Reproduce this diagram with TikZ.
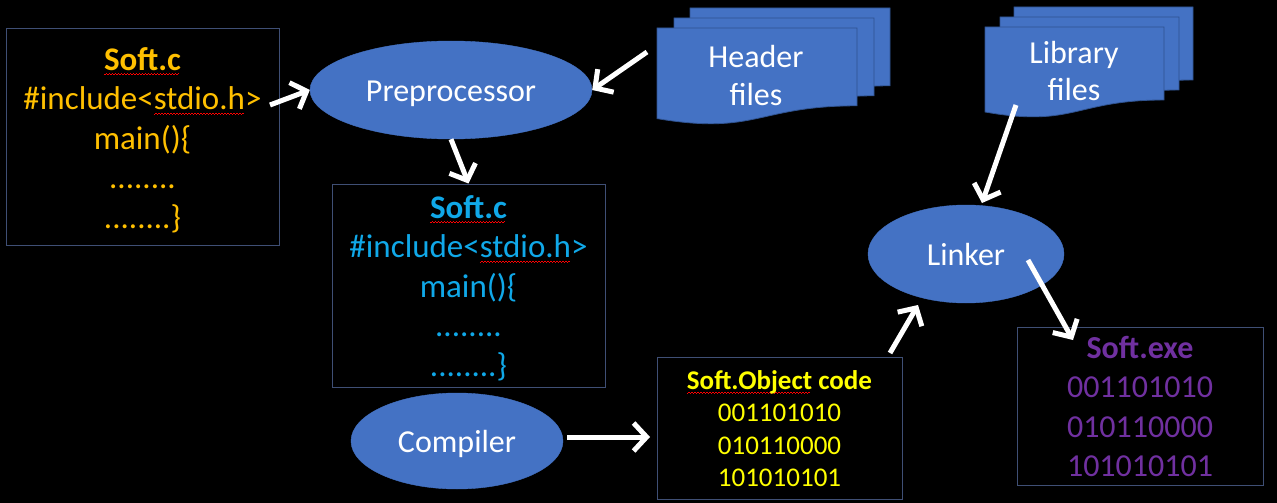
\documentclass[tikz,border=0pt]{standalone}
\usepackage{fontspec}
\setmainfont{Carlito}
\usetikzlibrary{shapes.geometric,arrows.meta}
\definecolor{pblue}{HTML}{4472C4}
\definecolor{pedge}{HTML}{2F528F}
\definecolor{bxedge}{HTML}{3F4F75}
\definecolor{corange}{HTML}{FFC000}
\definecolor{ccyan}{HTML}{10A8E8}
\definecolor{cyel}{HTML}{FFFF00}
\definecolor{cpurp}{HTML}{7030A0}
\newcommand\spellsq[1]{\setbox0=\hbox{#1}\rlap{\lower5pt\hbox to \wd0{\color{red}\leaders\hbox{\rule{1.5pt}{1pt}\raise1pt\hbox{\rule{1.5pt}{1pt}}}\hfill}}\box0\relax}
\newcommand\mydoc[4]{\filldraw[docst] (#1,#2) -- ({#1+#3},#2) -- ({#1+#3},{#2+0.802*#4}) .. controls ({#1+0.5*#3},{#2+0.802*#4}) and ({#1+0.5*#3},{#2+1.1075*#4}) .. (#1,{#2+0.934*#4}) -- cycle;}
\tikzset{
  codebox/.style={draw=bxedge, line width=1pt, rectangle, inner sep=0pt},
  codetext/.style={align=center, inner sep=0pt},
  proc/.style={ellipse, fill=pblue, draw=pblue, inner sep=0pt, text=white, text height=24pt, text depth=2pt, font=\fontsize{32}{39}\selectfont},
  docst/.style={fill=pblue, draw=pedge, line width=0.8pt},
  doctext/.style={text=white, align=center, inner sep=0pt},
  arr/.style={draw=white, line width=5pt, -{Straight Barb[length=13pt,width=28pt]}}
}
\begin{document}
\begin{tikzpicture}[x=1pt,y=-1pt]
\fill[black] (0,0) rectangle (1277,503);
\useasboundingbox (0,0) rectangle (1277,503);

% source box
\node[codebox, minimum width=273pt, minimum height=216pt] (src) at (142.5,137) {};
\node[codetext, text=corange, font=\fontsize{33}{39.5}\selectfont] (srct) at (142.5,140)
  {{\bfseries\spellsq{Soft.c}}\\\#include<\spellsq{stdio.h}>\\main()\{\\........\\........\}};

% preprocessor
\node[proc, minimum width=282pt, minimum height=98pt] (prep) at (451,90) {Preprocessor};

% header files stack
\mydoc{690}{8}{200}{97}
\mydoc{674}{18}{200}{97}
\mydoc{657}{28}{200}{97}
\node[doctext, font=\fontsize{32}{38}\selectfont] (hdr) at (756,76) {Header\\files};

% library files stack
\mydoc{1014}{7}{179}{91}
\mydoc{1000}{17}{179}{91}
\mydoc{985}{27}{179}{91}
\node[doctext, font=\fontsize{32}{37}\selectfont] (lib) at (1074,71) {Library\\files};

% preprocessed box
\node[codebox, minimum width=273pt, minimum height=203pt] (cpp) at (468.5,285.5) {};
\node[codetext, text=ccyan, font=\fontsize{33}{39.5}\selectfont] (cppt) at (468.5,288)
  {{\bfseries\spellsq{Soft.c}}\\\#include<\spellsq{stdio.h}>\\main()\{\\........\\........\}};

% compiler
\node[proc, minimum width=212pt, minimum height=96pt] (comp) at (457,441) {Compiler};

% object code
\node[codebox, minimum width=245pt, minimum height=142pt] (obj) at (779.5,428) {};
\node[codetext, text=cyel, font=\fontsize{27}{32.5}\selectfont] (objt) at (779.5,428.5)
  {{\bfseries\spellsq{Soft.Object} code}\\001101010\\010110000\\101010101};

% linker
\node[proc, minimum width=196pt, minimum height=98pt] (link) at (966,254) {Linker};

% executable
\node[codebox, minimum width=246pt, minimum height=158pt] (exe) at (1140,406) {};
\node[codetext, text=cpurp, font=\fontsize{32}{39.5}\selectfont] (exet) at (1140,406.5)
  {{\bfseries Soft.exe}\\001101010\\010110000\\101010101};

% connectors
\coordinate (a1s) at (270,105);
\coordinate (a2s) at (647,52);
\coordinate (a4s) at (567,437);
\coordinate (a4e) at (650,437);
\coordinate (a5s) at (890,353);
\coordinate (a5e) at (918,305);
\coordinate (a6s) at (1016,105);
\coordinate (a6e) at (982,203);
\coordinate (a7s) at (1028,260);
\coordinate (a7e) at (1073,340);
\draw[arr] (a1s) -- (prep.west);
\draw[arr] (a2s) -- (prep.east);
\draw[arr] (prep.south) -- (cpp.north);
\draw[arr] (a4s) -- (a4e);
\draw[arr] (a5s) -- (a5e);
\draw[arr] (a6s) -- (a6e);
\draw[arr] (a7s) -- (a7e);
\end{tikzpicture}
\end{document}
